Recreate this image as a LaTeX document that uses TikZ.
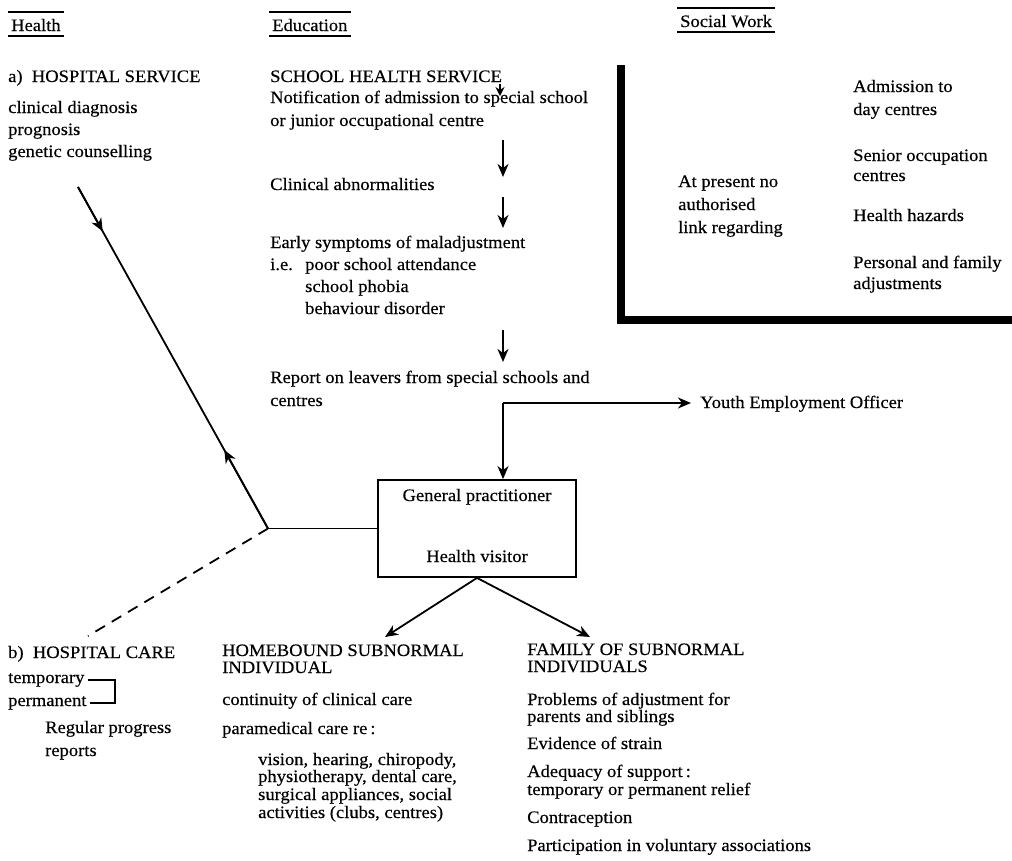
\documentclass[tikz,border=0pt]{standalone}
\usepackage{fontspec}
\setmainfont{Liberation Serif}[FakeStretch=1.06,FakeBold=0.35]
\usetikzlibrary{arrows.meta,calc}
\begin{document}
\begin{tikzpicture}[x=1pt,y=-1pt,
  txt/.style={inner sep=0pt, anchor=base west, font=\fontsize{17.5}{20}\selectfont},
  txtc/.style={txt, anchor=base},
  ln/.style={line width=1.8pt},
  hl/.style={line width=1.3pt},
  arr/.style={ln, -{Stealth[length=13pt,width=11pt,inset=4pt]}},
  boxst/.style={draw, line width=1.8pt, minimum width=198pt, minimum height=97pt, inner sep=0pt},
  heavy/.style={line width=8pt, line join=miter},
  dsh/.style={ln, dash pattern=on 11pt off 8pt}
]
\useasboundingbox (0,0) rectangle (1012,860);

% headers
\node[txt] (hd1) at (11,31) {Health};
\node[txt] (hd2) at (272,31) {Education};
\node[txt] (hd3) at (680,27) {Social Work};
\foreach \n in {hd1,hd2,hd3}{
  \draw[hl] ($(\n.base west)+(-3,-19)$) -- ($(\n.base east)+(3,-19)$);
  \draw[hl] ($(\n.base west)+(-3,5)$) -- ($(\n.base east)+(3,5)$);
}

% health column
\node[txt] (hs)  at (8,82)  {a)\ \ HOSPITAL SERVICE};
\node[txt] (hs1) at (8,113) {clinical diagnosis};
\node[txt] (hs2) at (8,135) {prognosis};
\node[txt] (hs3) at (8,157) {genetic counselling};

% education column
\node[txt] (sh) at (270,82)  {SCHOOL HEALTH SERVICE};
\node[txt] (e1) at (270,103) {Notification of admission to special school};
\node[txt] (e2) at (270,126) {or junior occupational centre};
\node[txt] (e3) at (270,190) {Clinical abnormalities};
\node[txt] (e4) at (270,248) {Early symptoms of maladjustment};
\node[txt] (e5) at (270,270) {i.e.};
\node[txt] (e6) at (305,270) {poor school attendance};
\node[txt] (e7) at (305,292) {school phobia};
\node[txt] (e8) at (305,314) {behaviour disorder};
\node[txt] (e9) at (270,383) {Report on leavers from special schools and};
\node[txt] (e10) at (270,406) {centres};

\coordinate (a0s) at (500,84);  \coordinate (a0e) at (500,96);
\coordinate (a1s) at (503,140); \coordinate (a1e) at (503,177);
\coordinate (a2s) at (503,197); \coordinate (a2e) at (503,228);
\coordinate (a3s) at (503,330); \coordinate (a3e) at (503,362);
\draw[ln,-{Stealth[length=9pt,width=9pt,inset=3pt]}] (a0s) -- (a0e);
\draw[arr] (a1s) -- (a1e);
\draw[arr] (a2s) -- (a2e);
\draw[arr] (a3s) -- (a3e);

% youth employment / GP box
\node[txt] (yeo) at (700,408) {Youth Employment Officer};
\node[boxst] (box) at (477,528.5) {};
\node[txtc] (gp) at (477,501) {General practitioner};
\node[txtc] (hv) at (477,562) {Health visitor};
\coordinate (yj) at (503,403);
\draw[arr] (yj) -- ([xshift=-9pt]yeo.base west |- yj);
\draw[arr] (yj) -- (yj |- box.north);

% junction to hospital
\coordinate (j) at (268,528.5);
\coordinate (ht) at (78,187);
\coordinate (hb) at (88,636);
\draw[ln] (box.west) -- (j);
\draw[ln] (ht) -- (j);
\draw[arr] (ht) -- ($(ht)!0.13!(j)$);
\draw[arr] (j) -- ($(j)!0.23!(ht)$);
\draw[dsh] (j) -- (hb);

% hospital care
\node[txt] (hc)  at (8,658) {b)\ \ HOSPITAL CARE};
\node[txt] (tmp) at (8,683) {temporary};
\node[txt] (prm) at (8,706) {permanent};
\node[txt] (rp1) at (45,733) {Regular progress};
\node[txt] (rp2) at (45,756) {reports};
\coordinate (bk) at (115,0);
\draw[line width=1.4pt] ([xshift=3pt]tmp.east) -- (bk |- tmp.east) -- (bk |- prm.east) -- ([xshift=3pt]prm.east);

% lower branches
\coordinate (hbA) at (385,637);
\coordinate (fmA) at (590,637);
\draw[arr] (box.south) -- (hbA);
\draw[arr] (box.south) -- (fmA);

\node[txt] (hb1) at (222,656) {HOMEBOUND SUBNORMAL};
\node[txt] (hb2) at (222,673) {INDIVIDUAL};
\node[txt] (hb3) at (222,705) {continuity of clinical care};
\node[txt] (hb4) at (222,734) {paramedical care re\,:};
\node[txt] (hb5) at (258,765) {vision, hearing, chiropody,};
\node[txt] (hb6) at (258,782) {physiotherapy, dental care,};
\node[txt] (hb7) at (258,800) {surgical appliances, social};
\node[txt] (hb8) at (258,818) {activities (clubs, centres)};

\node[txt] (fm1) at (527,655) {FAMILY OF SUBNORMAL};
\node[txt] (fm2) at (527,672) {INDIVIDUALS};
\node[txt] (fm3) at (527,705) {Problems of adjustment for};
\node[txt] (fm4) at (527,722) {parents and siblings};
\node[txt] (fm5) at (527,749) {Evidence of strain};
\node[txt] (fm6) at (527,777) {Adequacy of support\,:};
\node[txt] (fm7) at (527,795) {temporary or permanent relief};
\node[txt] (fm8) at (527,823) {Contraception};
\node[txt] (fm9) at (527,851) {Participation in voluntary associations};

% social work
\draw[heavy] (621,65) -- (621,320) -- (1012,320);
\node[txt] (sw1) at (678,187) {At present no};
\node[txt] (sw2) at (678,210) {authorised};
\node[txt] (sw3) at (678,233) {link regarding};
\node[txt] (sw4) at (853,92)  {Admission to};
\node[txt] (sw5) at (853,115) {day centres};
\node[txt] (sw6) at (853,161) {Senior occupation};
\node[txt] (sw7) at (853,181) {centres};
\node[txt] (sw8) at (853,221) {Health hazards};
\node[txt] (sw9) at (853,268) {Personal and family};
\node[txt] (sw10) at (853,289) {adjustments};
\end{tikzpicture}
\end{document}
